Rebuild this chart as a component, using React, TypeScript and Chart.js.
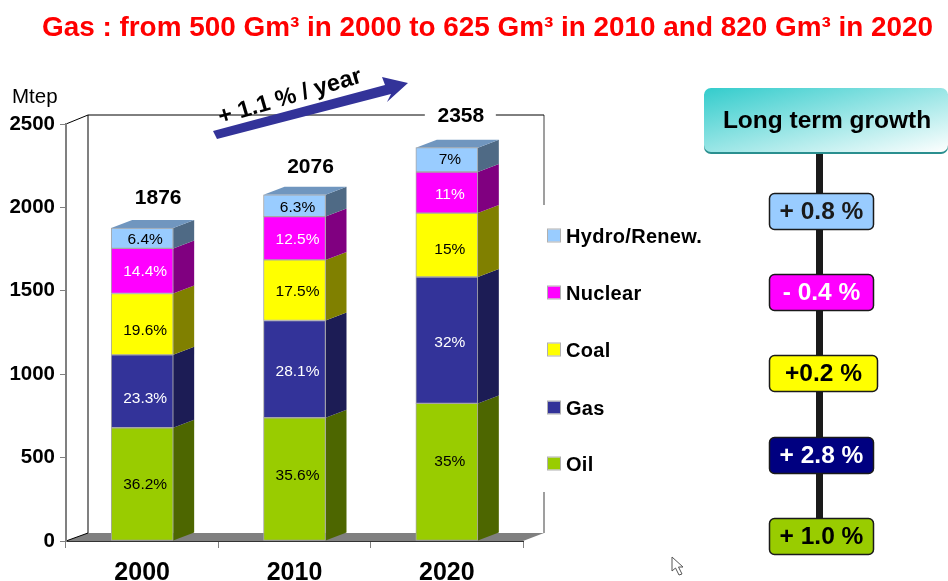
import React, { useEffect, useRef } from "react";
import { Chart, registerables } from "chart.js";

Chart.register(...registerables);

const years = ["2000", "2010", "2020"];
const totals = [1876, 2076, 2358];
const oil = [679, 739, 825];
const gas = [437, 583, 758];
const coal = [368, 363, 383];
const nuclear = [270, 260, 246];
const hydro = [122, 131, 146];
const oilPct = ["36.2%", "35.6%", "35%"];
const gasPct = ["23.3%", "28.1%", "32%"];
const coalPct = ["19.6%", "17.5%", "15%"];
const nuclearPct = ["14.4%", "12.5%", "11%"];
const hydroPct = ["6.4%", "6.3%", "7%"];
const growth = ["+ 0.8 %", "- 0.4 %", "+0.2 %", "+ 2.8 %", "+ 1.0 %"];
const seriesNames = ["Oil", "Gas", "Coal", "Nuclear", "Hydro/Renew."];
const frontColors = ["#99cc00", "#333399", "#ffff00", "#ff00ff", "#99ccff"];
const sideColors = ["#4d6600", "#1c1c55", "#808000", "#800080", "#4f6a85"];
const labelColors = ["#000000", "#ffffff", "#000000", "#ffffff", "#000000"];
const pctTables = [oilPct, gasPct, coalPct, nuclearPct, hydroPct];
const titleText = "Gas : from 500 Gm³ in 2000 to 625 Gm³ in 2010 and 820 Gm³ in 2020";

const FONT = '"Liberation Sans", Arial, sans-serif';
const DX = 21;
const DY = 8;

function roundBox(ctx: CanvasRenderingContext2D, x: number, y: number, w: number, h: number, r: number) {
  ctx.beginPath();
  ctx.roundRect(x, y, w, h, r);
}

const depthPlugin = {
  id: "depth",
  beforeDraw(chart: any) {
    const { ctx, chartArea: a } = chart;
    ctx.save();
    ctx.fillStyle = "#808080";
    ctx.beginPath();
    ctx.moveTo(a.left, a.bottom);
    ctx.lineTo(a.left + 22, a.bottom - DY);
    ctx.lineTo(a.right + 21, a.bottom - DY);
    ctx.lineTo(a.right, a.bottom);
    ctx.closePath();
    ctx.fill();
    ctx.strokeStyle = "#808080";
    ctx.lineWidth = 2;
    ctx.beginPath();
    ctx.moveTo(a.left + 22, a.top - 9);
    ctx.lineTo(a.left + 22, a.bottom - DY);
    ctx.stroke();
    ctx.lineWidth = 1.5;
    ctx.beginPath();
    ctx.moveTo(a.right + 21, a.top - 9);
    ctx.lineTo(a.right + 21, 205);
    ctx.moveTo(a.right + 21, 492);
    ctx.lineTo(a.right + 21, a.bottom - DY);
    ctx.stroke();
    ctx.strokeStyle = "#000000";
    ctx.lineWidth = 1;
    ctx.beginPath();
    ctx.moveTo(a.left, a.top);
    ctx.lineTo(a.left + 22, a.top - 9);
    ctx.lineTo(a.right + 21, a.top - 9);
    ctx.moveTo(a.left, a.bottom);
    ctx.lineTo(a.left + 22, a.bottom - DY);
    ctx.stroke();
    ctx.restore();
  },
  beforeDatasetsDraw(chart: any) {
    const { ctx } = chart;
    ctx.save();
    ctx.lineWidth = 1;
    ctx.strokeStyle = "#a0a0a0";
    chart.data.datasets.forEach((_: any, di: number) => {
      chart.getDatasetMeta(di).data.forEach((bar: any) => {
        const r = bar.x + bar.width / 2;
        ctx.fillStyle = sideColors[di];
        ctx.beginPath();
        ctx.moveTo(r, bar.base);
        ctx.lineTo(r + DX, bar.base - DY);
        ctx.lineTo(r + DX, bar.y - DY);
        ctx.lineTo(r, bar.y);
        ctx.closePath();
        ctx.fill();
        if (di === chart.data.datasets.length - 1) {
          const l = bar.x - bar.width / 2;
          ctx.fillStyle = "#7096bf";
          ctx.beginPath();
          ctx.moveTo(l, bar.y);
          ctx.lineTo(l + DX, bar.y - DY);
          ctx.lineTo(r + DX, bar.y - DY);
          ctx.lineTo(r, bar.y);
          ctx.closePath();
          ctx.fill();
        }
      });
    });
    ctx.restore();
  },
  afterDraw(chart: any) {
    const { ctx } = chart;
    ctx.save();
    ctx.textBaseline = "middle";

    // Title
    ctx.textAlign = "left";
    ctx.fillStyle = "#ff0000";
    ctx.font = `bold 27.9px ${FONT}`;
    ctx.fillText(titleText, 42, 28, 891);

    // Axis caption
    ctx.fillStyle = "#000000";
    ctx.font = `20.5px ${FONT}`;
    ctx.fillText("Mtep", 12, 97);

    // Percent labels inside the bars (nudged to where the source slide placed them)
    const labelShiftY = [
      [0, -4, -11],
      [6, 2, 2],
      [6, 1, 4],
      [0, 0, 1],
      [0, 1, -1],
    ];
    ctx.textAlign = "center";
    ctx.font = `15.5px ${FONT}`;
    chart.data.datasets.forEach((_: any, di: number) => {
      ctx.fillStyle = labelColors[di];
      chart.getDatasetMeta(di).data.forEach((bar: any, i: number) => {
        ctx.fillText(pctTables[di][i], bar.x + 3, (bar.y + bar.base) / 2 + 1 + labelShiftY[di][i]);
      });
    });

    // Totals above the bars
    ctx.font = `bold 21px ${FONT}`;
    const top = chart.getDatasetMeta(chart.data.datasets.length - 1).data;
    const totalGaps = [30, 28, 31];
    const totalShift = [16, 16, 14];
    top.forEach((bar: any, i: number) => {
      const x = bar.x + totalShift[i];
      const y = bar.y - totalGaps[i];
      if (i === 2) {
        ctx.fillStyle = "#ffffff";
        ctx.fillRect(x - 36, y - 11, 71, 20);
      }
      ctx.fillStyle = "#000000";
      ctx.fillText(String(totals[i]), x, y);
    });

    // Legend
    const legendY = [464, 408, 350, 293, 236];
    ctx.textAlign = "left";
    ctx.font = `bold 20px ${FONT}`;
    (ctx as any).letterSpacing = "0.3px";
    seriesNames.forEach((name, i) => {
      ctx.fillStyle = frontColors[i];
      ctx.strokeStyle = "#b0b0b0";
      ctx.lineWidth = 1;
      ctx.fillRect(548, legendY[i] - 6.5, 12, 12);
      ctx.strokeRect(547.5, legendY[i] - 7, 13, 13);
      ctx.fillStyle = "#000000";
      ctx.fillText(name, 566, legendY[i] + 1);
    });
    (ctx as any).letterSpacing = "0px";

    // Growth arrow and its text
    ctx.save();
    ctx.translate(290, 97);
    ctx.rotate((-16.5 * Math.PI) / 180);
    ctx.textAlign = "center";
    ctx.fillStyle = "#000000";
    ctx.font = `bold 23.5px ${FONT}`;
    ctx.fillText("+ 1.1 % / year", 0, 0);
    ctx.restore();
    ctx.fillStyle = "#333399";
    ctx.beginPath();
    ctx.moveTo(213, 131);
    ctx.lineTo(385, 85);
    ctx.lineTo(382, 77);
    ctx.lineTo(408, 83);
    ctx.lineTo(387, 102);
    ctx.lineTo(391, 94);
    ctx.lineTo(217, 139);
    ctx.closePath();
    ctx.fill();

    // Right panel: stem
    ctx.fillStyle = "#1a1a1a";
    ctx.fillRect(816, 152, 7, 370);

    // Right panel: header
    const grad = ctx.createLinearGradient(704, 88, 735, 208);
    grad.addColorStop(0, "#33cccc");
    grad.addColorStop(1, "#ffffff");
    ctx.fillStyle = "#2a8f8f";
    roundBox(ctx, 704, 90, 244, 64, 7);
    ctx.fill();
    ctx.fillStyle = grad;
    roundBox(ctx, 704, 88, 244, 64, 7);
    ctx.fill();
    ctx.textAlign = "center";
    ctx.fillStyle = "#000000";
    ctx.font = `bold 24.5px ${FONT}`;
    ctx.fillText("Long term growth", 827, 121);

    // Right panel: growth pills (top to bottom: hydro, nuclear, coal, gas, oil)
    const pillY = [193, 274, 355, 437, 518];
    const pillW = [104, 104, 108, 104, 104];
    const pillFill = ["#99ccff", "#ff00ff", "#ffff00", "#000080", "#99cc00"];
    const pillText = ["#1a1a1a", "#ffffff", "#000000", "#ffffff", "#000000"];
    growth.forEach((g, i) => {
      ctx.fillStyle = pillFill[i];
      ctx.strokeStyle = "#1a1a1a";
      ctx.lineWidth = 1.5;
      roundBox(ctx, 769.5, pillY[i] + 0.5, pillW[i], 36, 5);
      ctx.fill();
      ctx.stroke();
      ctx.fillStyle = pillText[i];
      ctx.font = `bold 24.5px ${FONT}`;
      ctx.fillText(g, 769.5 + pillW[i] / 2, pillY[i] + 19);
    });

    // Mouse pointer present in the screenshot
    ctx.fillStyle = "#ffffff";
    ctx.strokeStyle = "#555555";
    ctx.lineWidth = 1;
    ctx.beginPath();
    ctx.moveTo(672, 557);
    ctx.lineTo(672, 571);
    ctx.lineTo(675.5, 568);
    ctx.lineTo(679, 575);
    ctx.lineTo(682, 574);
    ctx.lineTo(678.5, 567);
    ctx.lineTo(683, 567);
    ctx.closePath();
    ctx.fill();
    ctx.stroke();
    ctx.restore();
  },
};

export default function App() {
  const ref = useRef<HTMLCanvasElement | null>(null);
  useEffect(() => {
    if (!ref.current) return;
    const values = [oil, gas, coal, nuclear, hydro];
    const chart = new Chart(ref.current, {
      type: "bar",
      data: {
        labels: years,
        datasets: seriesNames.map((name, i) => ({
          label: name,
          data: values[i],
          backgroundColor: frontColors[i],
          borderColor: "#a6a6a6",
          borderWidth: 1,
          borderSkipped: false,
          barThickness: 62,
        })),
      },
      options: {
        responsive: false,
        animation: false,
        layout: { padding: { left: 0, right: 425, top: 124, bottom: 0 } },
        plugins: { legend: { display: false }, tooltip: { enabled: false }, title: { display: false } },
        scales: {
          x: {
            stacked: true,
            afterFit: (s: any) => {
              s.height = 40;
            },
            grid: { display: true, drawOnChartArea: false, drawTicks: true, tickLength: 7, color: "#808080", offset: true },
            border: { display: true, color: "#333333", width: 1 },
            ticks: { color: "#000000", padding: 10, font: { family: FONT, size: 25, weight: "bold" } },
          },
          y: {
            stacked: true,
            min: 0,
            max: 2500,
            afterFit: (s: any) => {
              s.width = 66;
            },
            grid: { display: true, drawOnChartArea: false, drawTicks: true, tickLength: 6, color: "#808080" },
            border: { display: true, color: "#808080", width: 2 },
            ticks: {
              stepSize: 500,
              color: "#000000",
              padding: 5,
              font: { family: FONT, size: 20.5, weight: "bold" },
              callback: (v: any) => String(v),
            },
          },
        },
      },
      plugins: [depthPlugin],
    } as any);
    return () => chart.destroy();
  }, []);
  return (
    <canvas
      ref={ref}
      width={948}
      height={581}
      style={{ position: "absolute", left: 0, top: 0, width: 948, height: 581, background: "#ffffff" }}
    />
  );
}
